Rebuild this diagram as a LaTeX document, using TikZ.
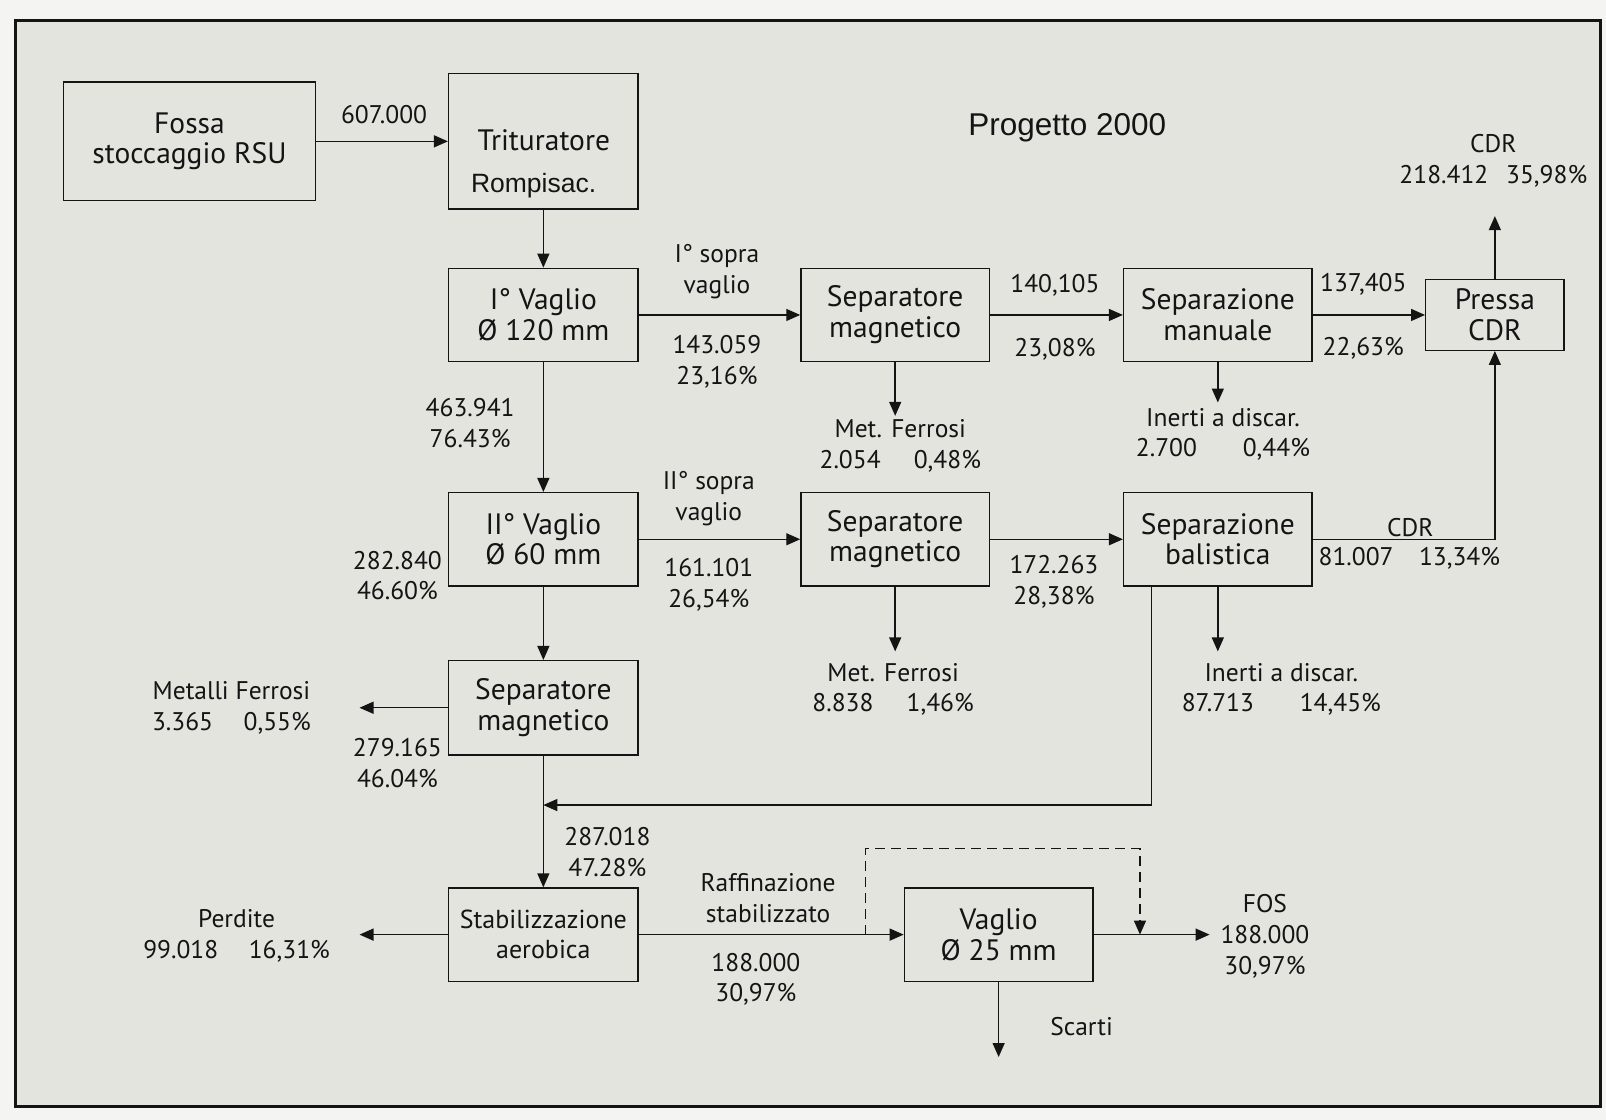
\documentclass[tikz,border=0pt]{standalone}
\usepackage{fontspec}
\setmainfont{PT Sans}
\newfontfamily\arialf{Liberation Sans}
\usetikzlibrary{arrows.meta}
\definecolor{paper}{RGB}{228,228,223}
\definecolor{marginc}{RGB}{244,244,242}
\definecolor{ink}{RGB}{20,20,20}
\begin{document}
\begin{tikzpicture}[x=1.0242pt,y=-1.0242pt,
  box/.style={draw=ink, line width=1.4pt, inner sep=0pt, align=center,
    font=\fontsize{29.5}{30.7}\selectfont, text=ink},
  sz/.style 2 args={minimum width=#1*1.0242pt, minimum height=#2*1.0242pt},
  lbl/.style={inner sep=0pt, align=center, font=\fontsize{25.5}{30.7}\selectfont, text=ink},
  arr/.style={draw=ink, line width=1.4pt, -{Triangle[length=14pt,width=12pt]}},
  dsh/.style={draw=ink, line width=1.4pt, dash pattern=on 10pt off 6pt, -{Triangle[length=14pt,width=12pt]}}]
\fill[marginc] (0,0) rectangle (1568,1093);
\fill[paper] (15,20) rectangle (1563,1080);
\draw[ink, line width=2.8pt] (15,20) rectangle (1563,1080);
\useasboundingbox (0,0) rectangle (1568,1093);

% boxes
\node[box, sz={246}{116}] (fossa) at (185,138) {Fossa\\stoccaggio RSU};
\node[box, sz={185}{132}] (trit) at (530.5,138) {};
\node[lbl, font=\fontsize{29.5}{30}\selectfont] (tritt) at (531,137) {Trituratore};
\node[lbl, font=\arialf\fontsize{26.5}{28}\selectfont] (romp) at (521,181) {Rompisac.};
\node[box, sz={185}{91}] (v1) at (530.5,307.5) {I° Vaglio\\Ø 120 mm};
\node[box, sz={184}{91}] (sm1) at (874,307.5) {Separatore\\magnetico};
\node[box, sz={184}{91}] (sman) at (1189,307.5) {Separazione\\manuale};
\node[box, sz={135}{69}] (pressa) at (1459.5,307.5) {Pressa\\CDR};
\node[box, sz={185}{91}] (v2) at (530.5,526.5) {II° Vaglio\\Ø 60 mm};
\node[box, sz={184}{91}] (sm2) at (874,526.5) {Separatore\\magnetico};
\node[box, sz={184}{91}] (bal) at (1189,526.5) {Separazione\\balistica};
\node[box, sz={185}{92}] (sm3) at (530.5,691) {Separatore\\magnetico};
\node[box, sz={185}{91}, font=\fontsize{26}{29.5}\selectfont] (stab) at (530.5,912.5) {Stabilizzazione\\aerobica};
\node[box, sz={184}{91}] (v25) at (975,912.5) {Vaglio\\Ø 25 mm};

% free ends
\coordinate (cdrtop) at (1459.5,211);
\coordinate (mf1end) at (874,406);
\coordinate (in1end) at (1189,393);
\coordinate (mf2end) at (874,636);
\coordinate (in2end) at (1189,636);
\coordinate (mf3end) at (351,691);
\coordinate (merge) at (530.5,786);
\coordinate (perdend) at (351,912.5);
\coordinate (fosend) at (1181,912.5);
\coordinate (scartend) at (975,1032);
\coordinate (d1) at (845,912.5);
\coordinate (d2) at (1113,912.5);

% connectors
\draw[arr] (fossa.east) -- (trit.west |- fossa.east);
\draw[arr] (trit.south) -- (v1.north);
\draw[arr] (v1.east) -- (sm1.west);
\draw[arr] (sm1.east) -- (sman.west);
\draw[arr] (sman.east) -- (pressa.west);
\draw[arr] (pressa.north) -- (cdrtop);
\draw[arr] (sm1.south) -- (mf1end);
\draw[arr] (sman.south) -- (in1end);
\draw[arr] (v1.south) -- (v2.north);
\draw[arr] (v2.east) -- (sm2.west);
\draw[arr] (sm2.east) -- (bal.west);
\draw[arr] (bal.east) -| (pressa.south);
\draw[arr] (sm2.south) -- (mf2end);
\draw[arr] (bal.south) -- (in2end);
\draw[arr] (v2.south) -- (sm3.north);
\draw[arr] (sm3.west) -- (mf3end);
\draw[arr] ([xshift=28.7pt]bal.south west) |- (merge);
\draw[arr] (sm3.south) -- (stab.north);
\draw[arr] (stab.west) -- (perdend);
\draw[arr] (stab.east) -- (v25.west);
\draw[dsh] (d1) -- ++(0,-84) -| (d2);
\draw[arr] (v25.east) -- (fosend);
\draw[arr] (v25.south) -- (scartend);

% labels
\node[lbl] (l607) at (375,112) {607.000};
\node[lbl, font=\arialf\fontsize{31.5}{32}\selectfont] (prog) at (1042,125) {Progetto 2000};
\node[lbl] (lcdr1) at (1458,157) {CDR\\218.412\hspace{0.7em}35,98\%};
\node[lbl] (ls1) at (700,265) {I° sopra\\vaglio};
\node[lbl] (l143) at (700,353) {143.059\\23,16\%};
\node[lbl] (l140) at (1030,279) {140,105};
\node[lbl] (l2308) at (1030,341) {23,08\%};
\node[lbl] (l137) at (1331,278) {137,405};
\node[lbl] (l2263) at (1331,340) {22,63\%};
\node[lbl] (lmf1) at (879,435) {Met. Ferrosi\\2.054\hspace{1.3em}0,48\%};
\node[lbl] (lin1) at (1194,424) {Inerti a discar.\\2.700\hspace{1.8em}0,44\%};
\node[lbl] (l463) at (459,413) {463.941\\76.43\%};
\node[lbl] (ls2) at (692,487) {II° sopra\\vaglio};
\node[lbl] (l161) at (692,571) {161.101\\26,54\%};
\node[lbl] (l282) at (388,562) {282.840\\46.60\%};
\node[lbl] (l172) at (1029,568) {172.263\\28,38\%};
\node[lbl] (lcdr2) at (1377,515) {CDR};
\node[lbl] (l81) at (1376,545) {81.007\hspace{1em}13,34\%};
\node[lbl] (lmf2) at (872,673) {Met. Ferrosi\\8.838\hspace{1.3em}1,46\%};
\node[lbl] (lin2) at (1251,673) {Inerti a discar.\\87.713\hspace{1.8em}14,45\%};
\node[lbl] (lmf3) at (226,691) {Metalli Ferrosi\\3.365\hspace{1.2em}0,55\%};
\node[lbl] (l279) at (388,745) {279.165\\46.04\%};
\node[lbl] (l287) at (593,832) {287.018\\47.28\%};
\node[lbl] (lperd) at (231,914) {Perdite\\99.018\hspace{1.2em}16,31\%};
\node[lbl] (lraff) at (750,877) {Raffinazione\\stabilizzato};
\node[lbl] (l188) at (738,956) {188.000\\30,97\%};
\node[lbl] (lfos) at (1235,914) {FOS\\188.000\\30,97\%};
\node[lbl] (lscarti) at (1056,1002) {Scarti};
\end{tikzpicture}
\end{document}
